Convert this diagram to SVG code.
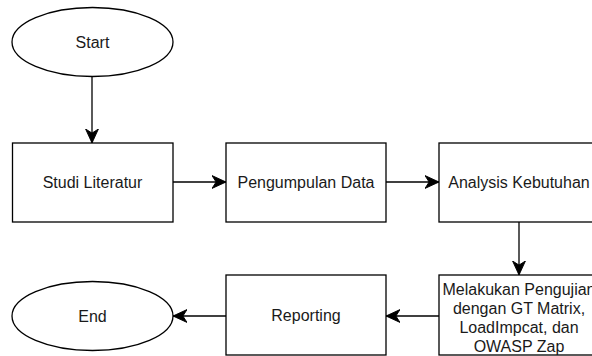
<svg xmlns="http://www.w3.org/2000/svg" width="592" height="356" viewBox="0 0 592 356">
<defs>
<marker id="arr" markerUnits="userSpaceOnUse" markerWidth="14" markerHeight="14" viewBox="0 0 12 12" refX="12" refY="6" orient="auto">
<path d="M0,0.5 L12,6 L0,11.5 L3.5,6 Z" fill="#000" stroke="#000" stroke-width="0.8" stroke-linejoin="miter"/>
</marker>
<style>
.n{fill:#fff;stroke:#000;stroke-width:1.3}
.t{font-family:"Liberation Sans",Arial,Helvetica,sans-serif;font-size:16px;fill:#1a1a1a;text-anchor:middle;dominant-baseline:central}
.c{fill:none;stroke:#000;stroke-width:1.3;marker-end:url(#arr)}
</style>
</defs>
<rect width="592" height="356" fill="#fff"/>
<g id="connectors">
<path class="c" d="M92,76 L92,143"/>
<path class="c" d="M173,182 L226,182"/>
<path class="c" d="M386,182 L439,182"/>
<path class="c" d="M519,222 L519,275"/>
<path class="c" d="M439,316 L386,316"/>
<path class="c" d="M226,316 L173,316"/>
</g>
<g id="start">
<ellipse class="n" cx="92.5" cy="42" rx="80.5" ry="34.5"/>
<text class="t" x="92.5" y="42">Start</text>
</g>
<g id="studi">
<rect class="n" x="12.5" y="143" width="160.5" height="79"/>
<text class="t" x="92.5" y="182">Studi Literatur</text>
</g>
<g id="pengumpulan">
<rect class="n" x="226" y="143" width="160" height="79"/>
<text class="t" x="306" y="182">Pengumpulan Data</text>
</g>
<g id="analysis">
<rect class="n" x="439" y="143" width="160" height="79"/>
<text class="t" x="519" y="182">Analysis Kebutuhan</text>
</g>
<g id="pengujian">
<rect class="n" x="439" y="275" width="160" height="80"/>
<text class="t" x="519" y="289">Melakukan Pengujian</text>
<text class="t" x="519" y="308">dengan GT Matrix,</text>
<text class="t" x="519" y="327">LoadImpcat, dan</text>
<text class="t" x="519" y="346">OWASP Zap</text>
</g>
<g id="reporting">
<rect class="n" x="226" y="275" width="160" height="80"/>
<text class="t" x="306" y="315">Reporting</text>
</g>
<g id="end">
<ellipse class="n" cx="92.5" cy="316" rx="80.5" ry="34.5"/>
<text class="t" x="92.5" y="316">End</text>
</g>
</svg>
